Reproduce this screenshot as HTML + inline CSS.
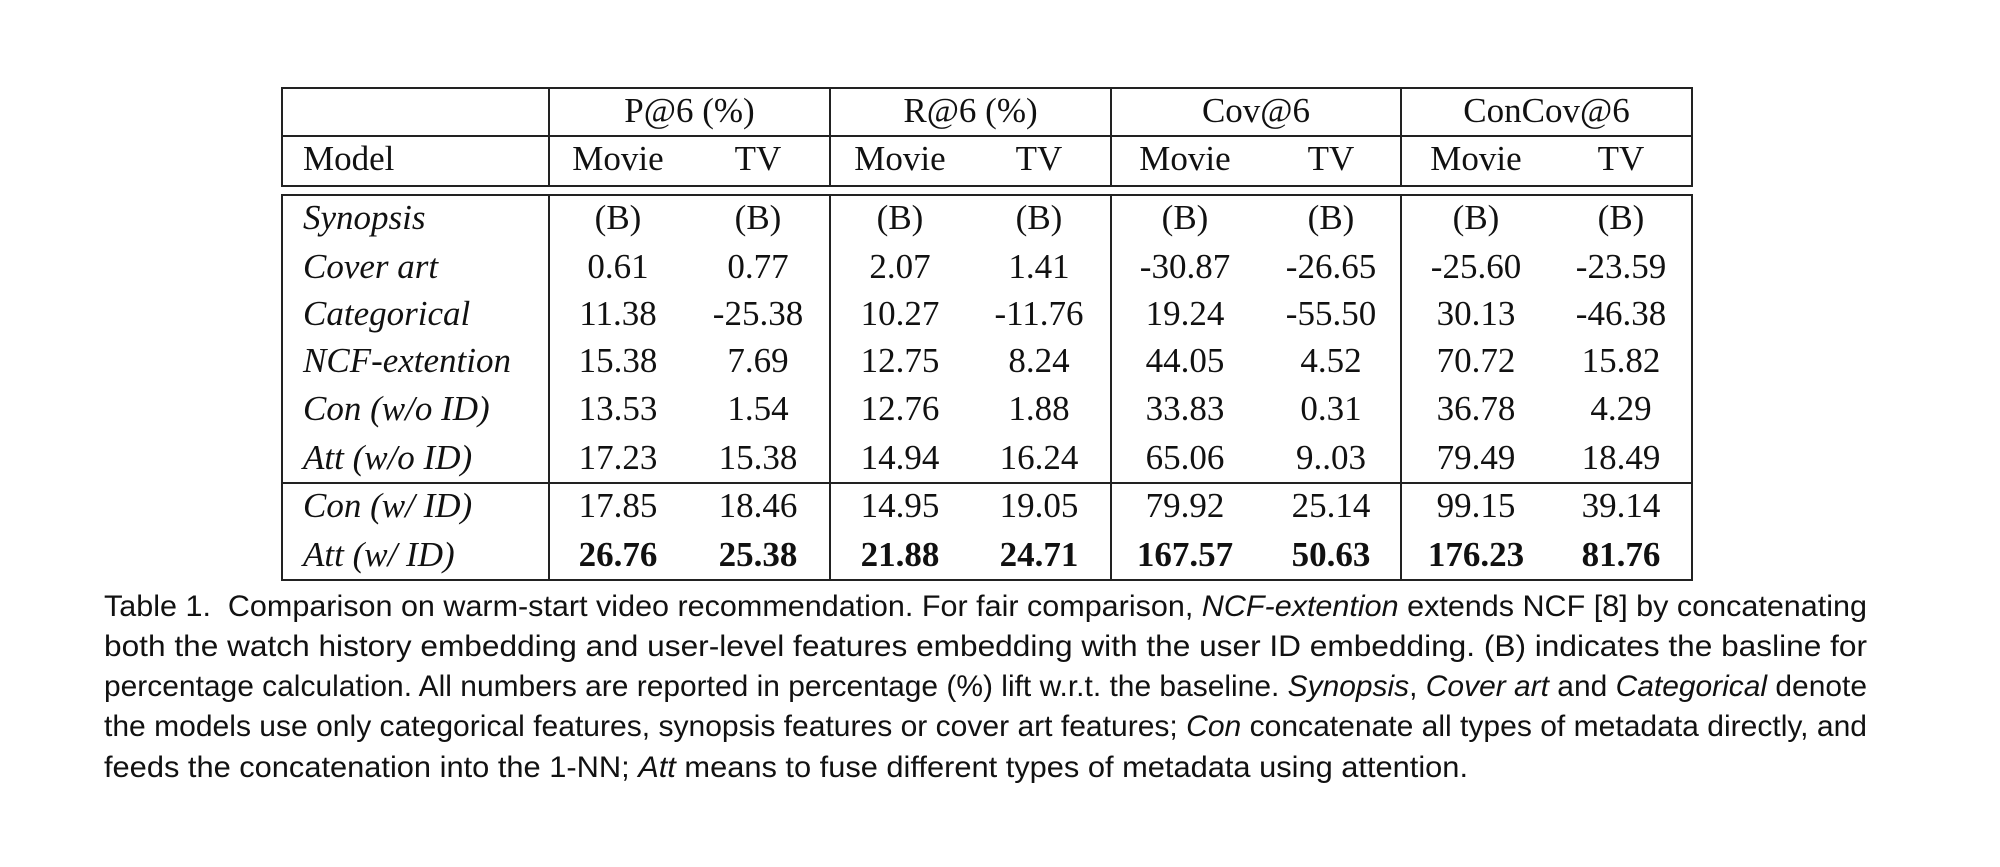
<!DOCTYPE html>
<html><head><meta charset="utf-8"><style>
html,body{margin:0;padding:0;background:#fff;width:2000px;height:867px;overflow:hidden;position:relative}
.c{position:absolute;font-family:"Liberation Serif",serif;font-size:35px;color:#111;white-space:nowrap;transform:translate(-50%,-50%)}
.l{position:absolute;font-family:"Liberation Serif",serif;font-size:35px;font-style:italic;color:#111;white-space:nowrap;transform:translateY(-50%)}
.h{position:absolute;background:#222}
.cap{position:absolute;left:104px;font-family:"Liberation Sans",sans-serif;font-size:30px;color:#111;white-space:nowrap;transform-origin:0 50%;line-height:40px}
</style></head><body>
<div id="tbl"></div>
<div id="caption">
<div class="cap" style="top:587px" data-w="1763">Table 1.&nbsp; Comparison on warm-start video recommendation. For fair comparison, <i>NCF-extention</i> extends NCF [8] by concatenating</div>
<div class="cap" style="top:627px" data-w="1763">both the watch history embedding and user-level features embedding with the user ID embedding. (B) indicates the basline for</div>
<div class="cap" style="top:667px" data-w="1763">percentage calculation. All numbers are reported in percentage (%) lift w.r.t. the baseline. <i>Synopsis</i>, <i>Cover art</i> and <i>Categorical</i> denote</div>
<div class="cap" style="top:707px" data-w="1763">the models use only categorical features, synopsis features or cover art features; <i>Con</i> concatenate all types of metadata directly, and</div>
<div class="cap" style="top:748px" data-w="1364">feeds the concatenation into the 1-NN; <i>Att</i> means to fuse different types of metadata using attention.</div>
</div>
<script>
const groups=["P@6 (%)","R@6 (%)","Cov@6","ConCov@6"];
const models=["Synopsis","Cover art","Categorical","NCF-extention","Con (w/o ID)","Att (w/o ID)","Con (w/ ID)","Att (w/ ID)"];
const values=[
["(B)","(B)","(B)","(B)","(B)","(B)","(B)","(B)"],
["0.61","0.77","2.07","1.41","-30.87","-26.65","-25.60","-23.59"],
["11.38","-25.38","10.27","-11.76","19.24","-55.50","30.13","-46.38"],
["15.38","7.69","12.75","8.24","44.05","4.52","70.72","15.82"],
["13.53","1.54","12.76","1.88","33.83","0.31","36.78","4.29"],
["17.23","15.38","14.94","16.24","65.06","9..03","79.49","18.49"],
["17.85","18.46","14.95","19.05","79.92","25.14","99.15","39.14"],
["26.76","25.38","21.88","24.71","167.57","50.63","176.23","81.76"]];
const boldRows=[7];
const T=document.getElementById('tbl');
const colX=[281,548,829,1110,1400,1691];
const subX=[618,758,900,1039,1185,1331,1476,1621];
const rowY=[218,267,314,361,409,458,506,555];
function line(x,y,w,h,n){const d=document.createElement('div');d.className='h';


d.style.cssText=`left:${x}px;top:${y}px;width:${w}px;height:${h}px`;T.appendChild(d);}
function txt(cls,x,y,s,n,b){const d=document.createElement('div');d.className=cls;


d.style.left=x+'px';d.style.top=y+'px';if(b)d.style.fontWeight='bold';d.textContent=s;T.appendChild(d);}
[[87,'top-rule'],[135,'header-rule'],[185,'header-bottom-rule'],[194,'body-top-rule'],[482,'group-rule'],[579,'bottom-rule']].forEach(r=>line(281,r[0],1412,2,r[1]));
colX.forEach((x,i)=>{line(x,87,2,100,'header-vrule');line(x,194,2,387,'body-vrule');});
groups.forEach((g,i)=>txt('c',(colX[i+1]+colX[i+2])/2+1,111,g,'group-header'));
txt('l',303,159,'Model','model-header');
document.querySelector('.l:last-child').style.fontStyle='normal';
subX.forEach((x,i)=>txt('c',x,159,i%2?'TV':'Movie',i%2?'tv-header':'movie-header'));
models.forEach((m,r)=>{txt('l',303,rowY[r],m,'model-name');
values[r].forEach((v,c)=>txt('c',subX[c],rowY[r],v,'value-cell',boldRows.includes(r)));});
document.querySelectorAll('.cap').forEach(e=>{const w=e.getBoundingClientRect().width;e.style.transform=`scaleX(${(+e.dataset.w)/w})`;});
</script>
</body></html>
